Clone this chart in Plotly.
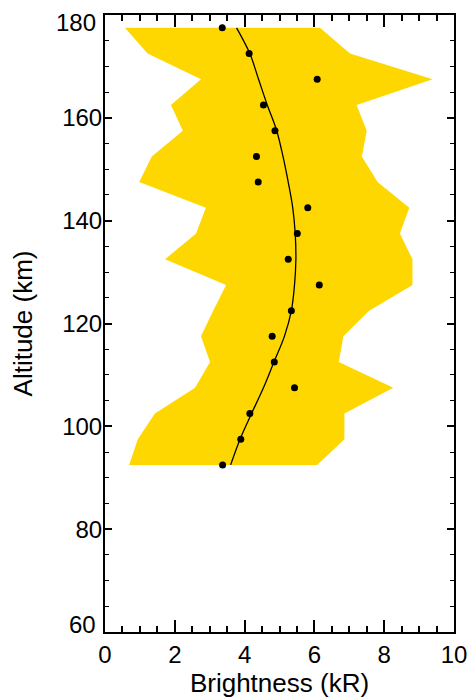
import plotly.graph_objects as go

altitude = [92.5, 97.5, 102.5, 107.5, 112.5, 117.5, 122.5, 127.5, 132.5,
            137.5, 142.5, 147.5, 152.5, 157.5, 162.5, 167.5, 172.5, 177.5]
brightness = [3.37, 3.89, 4.15, 5.43, 4.85, 4.79, 5.34, 6.14, 5.25,
              5.51, 5.81, 4.39, 4.34, 4.87, 4.54, 6.08, 4.13, 3.36]
band_low = [0.69, 0.94, 1.43, 2.58, 3.01, 2.75, 3.10, 3.47, 1.72,
            2.61, 2.89, 0.98, 1.34, 2.23, 1.89, 2.75, 1.22, 0.57]
band_high = [6.08, 6.86, 6.86, 8.26, 6.70, 6.83, 7.57, 8.81, 8.81,
             8.45, 8.72, 7.81, 7.36, 7.50, 7.21, 9.39, 7.02, 6.16]
fit_curve = [3.60, 3.87, 4.20, 4.54, 4.84, 5.14, 5.34, 5.43, 5.47,
             5.45, 5.38, 5.25, 5.10, 4.92, 4.65, 4.40, 4.15, 3.77]

x_ticks = [0, 2, 4, 6, 8, 10]
y_ticks = [60, 80, 100, 120, 140, 160, 180]

FONT = "Liberation Sans, Arial, sans-serif"

fig = go.Figure()
fig.add_trace(go.Scatter(
    x=band_low + band_high[::-1],
    y=altitude + altitude[::-1],
    fill="toself", fillcolor="#FFD700",
    line=dict(width=0, color="#FFD700"),
    mode="lines", hoverinfo="skip", showlegend=False))
fig.add_trace(go.Scatter(
    x=fit_curve, y=altitude, mode="lines",
    line=dict(color="black", width=1.3, shape="spline"),
    showlegend=False))
fig.add_trace(go.Scatter(
    x=brightness, y=altitude, mode="markers",
    marker=dict(color="black", size=7),
    showlegend=False))

fig.update_layout(
    width=469, height=699,
    margin=dict(l=105, r=15, t=15, b=67),
    plot_bgcolor="white", paper_bgcolor="white",
    font=dict(family=FONT, color="black", size=24),
)
fig.update_xaxes(
    range=[0, 10], tickvals=x_ticks, ticktext=[str(v) for v in x_ticks],
    ticks="inside", ticklen=12, tickwidth=1.5, tickcolor="black",
    minor=dict(dtick=0.5, ticks="inside", ticklen=6, tickwidth=1.5, tickcolor="black"),
    showline=True, linecolor="black", linewidth=2, mirror="ticks",
    showgrid=False, zeroline=False, automargin=False,
    tickfont=dict(family=FONT, size=24, color="black"),
    title=dict(text="Brightness (kR)", font=dict(size=26), standoff=4),
)
# end labels of the y axis are nudged inward (as in the reference), drawn as annotations
y_text = ["" if v in (y_ticks[0], y_ticks[-1]) else str(v) for v in y_ticks]
fig.update_yaxes(
    range=[60, 180], tickvals=y_ticks, ticktext=y_text,
    ticks="inside", ticklen=7, tickwidth=1.5, tickcolor="black",
    minor=dict(dtick=5, ticks="inside", ticklen=4, tickwidth=1.2, tickcolor="black"),
    showline=True, linecolor="black", linewidth=2, mirror="ticks",
    showgrid=False, zeroline=False, automargin=False,
    ticklabelstandoff=-4,
    tickfont=dict(family=FONT, size=24, color="black"),
    title=dict(text="Altitude (km)", font=dict(size=26), standoff=22),
)
for val, shift in ((y_ticks[0], 8), (y_ticks[-1], -7)):
    fig.add_annotation(
        x=0, xref="paper", xanchor="right", xshift=-7,
        y=val, yref="y", yanchor="middle", yshift=shift,
        text=str(val), showarrow=False,
        font=dict(family=FONT, size=24, color="black"))

fig.write_html("out.html", config={"displayModeBar": False},
               post_script="document.body.style.margin='0';")
